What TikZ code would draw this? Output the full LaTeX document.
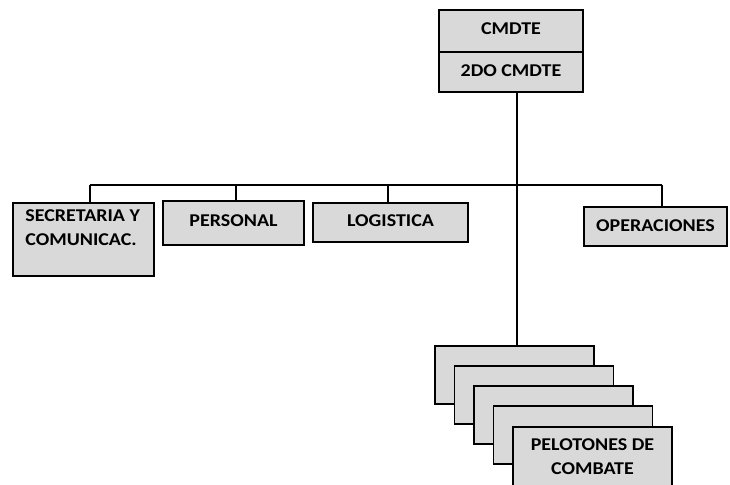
\documentclass[tikz,border=0pt]{standalone}
\usepackage{fontspec}
\setmainfont{Carlito}[FakeStretch=1.11]
\definecolor{boxgray}{HTML}{D9D9D9}
\begin{document}
\begin{tikzpicture}[x=1pt,y=-1pt,
  box/.style={draw=black, fill=boxgray, line width=1.5pt, rectangle, inner sep=0pt,
    font=\fontsize{18}{24}\selectfont\bfseries, align=center},
  conn/.style={draw=black, line width=1.4pt}]
\useasboundingbox (0,0) rectangle (730,484);
% top boxes
\node[box, minimum width=144, minimum height=42] (cmdte) at (511,31) {\raisebox{4pt}{CMDTE}};
\node[box, minimum width=144, minimum height=40] (sdo) at (511,72) {\raisebox{3pt}{2DO CMDTE}};
% staff boxes
\node[box, minimum width=141, minimum height=73,
  label={[font=\fontsize{18}{24}\selectfont\bfseries, align=left, anchor=north west, inner sep=0pt, xshift=13pt, yshift=-7pt]north west:SECRETARIA Y\\COMUNICAC.}] (sec) at (83.5,239.5) {};
\node[box, minimum width=141, minimum height=44] (per) at (233.5,223) {\raisebox{5pt}{PERSONAL}};
\node[box, minimum width=155, minimum height=39] (log) at (390.5,222.5) {\raisebox{3pt}{LOGISTICA}};
\node[box, minimum width=143, minimum height=39] (ope) at (655.5,226.5) {\raisebox{1pt}{OPERACIONES}};
% stacked platoon boxes
\node[box, minimum width=159, minimum height=58] (b1) at (514.5,375) {};
\node[box, minimum width=159, minimum height=58] (b2) at (534,395) {};
\node[box, minimum width=159, minimum height=58] (b3) at (553.5,415) {};
\node[box, minimum width=159, minimum height=58] (b4) at (573,435) {};
\node[box, minimum width=159, minimum height=59] (b5) at (592.5,456.5) {PELOTONES DE\\COMBATE};
% connector points
\coordinate (trunk) at (517,185);
\coordinate (dsec) at (90,185);
\coordinate (dper) at (236,185);
\coordinate (dlog) at (388,185);
\coordinate (dope) at (662,185);
% connectors
\draw[conn] (sdo.south -| trunk) -- (b1.north -| trunk);
\draw[conn] (dsec) -- (dope);
\draw[conn] (dsec) -- (dsec |- sec.north);
\draw[conn] (dper) -- (dper |- per.north);
\draw[conn] (dlog) -- (dlog |- log.north);
\draw[conn] (dope) -- (dope |- ope.north);
\end{tikzpicture}
\end{document}
